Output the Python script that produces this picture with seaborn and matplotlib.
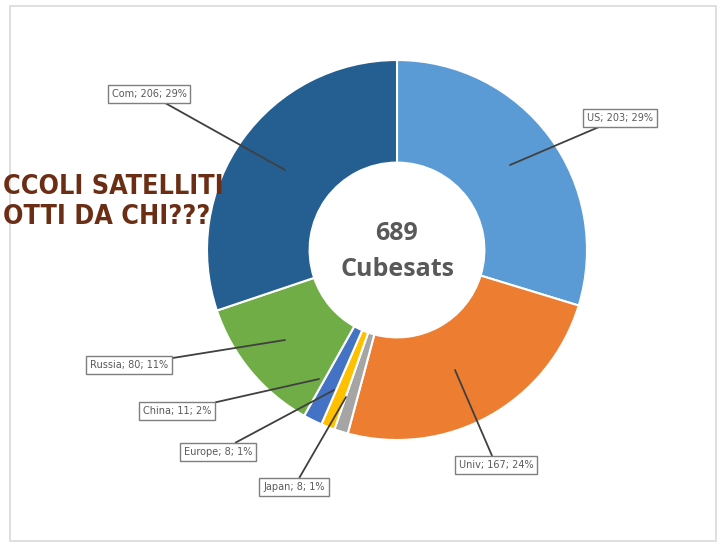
import matplotlib
matplotlib.use("Agg")
import matplotlib.pyplot as plt
import seaborn as sns
from matplotlib.patches import Rectangle

# dati (senso orario dall'alto)
paesi = ["US", "Univ", "Japan", "Europe", "China", "Russia", "Com"]
valori = [203, 167, 8, 8, 11, 80, 206]
percentuali = ["29%", "24%", "1%", "1%", "2%", "11%", "29%"]
colori = ["#5B9BD5", "#ED7D31", "#A5A5A5", "#FFC000", "#4472C4", "#70AD47", "#255E91"]

# posizione delle etichette (pixel, y dall'alto) e punto di arrivo della linea guida
pos_etichette = {
    "US": (620, 118), "Univ": (496, 465), "Japan": (294, 487), "Europe": (218, 452),
    "China": (177, 411), "Russia": (129, 365), "Com": (149, 94),
}
punti_guida = {
    "US": (510, 165), "Univ": (455, 370), "Japan": (346, 397), "Europe": (334, 390),
    "China": (319, 379), "Russia": (285, 340), "Com": (285, 170),
}

sns.set_theme(style="white")

W, H = 721, 547
fig = plt.figure(figsize=(W / 100, H / 100), dpi=100)
ax = fig.add_axes([0, 0, 1, 1])

cx, cy, R = 397, H - 250, 190
ax.pie(valori, colors=colori, startangle=90, counterclock=False,
       center=(cx, cy), radius=R, frame=True,
       wedgeprops=dict(width=R * 0.54, edgecolor="white", linewidth=1.5))
ax.set_xlim(0, W)
ax.set_ylim(0, H)
ax.set_aspect("equal")
ax.axis("off")

ax.text(cx, cy + 16, "689", ha="center", va="center", fontsize=18,
        fontweight="bold", color="#595959", family="Open Sans")
ax.text(cx, cy - 20, "Cubesats", ha="center", va="center", fontsize=18,
        fontweight="bold", color="#595959", family="Open Sans")

for nome, val, pct in zip(paesi, valori, percentuali):
    tx, ty = pos_etichette[nome]
    px, py = punti_guida[nome]
    ax.annotate(f"{nome}; {val}; {pct}", xy=(px, H - py), xytext=(tx, H - ty),
                ha="center", va="center", fontsize=7, color="#595959",
                bbox=dict(boxstyle="square,pad=0.4", fc="white", ec="#7F7F7F", lw=1),
                arrowprops=dict(arrowstyle="-", color="#404040", lw=1.3,
                                shrinkA=0, shrinkB=0))

# titolo (parte visibile, tagliata a sinistra nell'originale)
titolo_kw = dict(ha="left", va="center", fontsize=19.3, fontweight="heavy",
                 fontstretch="condensed", color="#6B2E14",
                 family=["DejaVu Sans"], zorder=10)
ax.text(3, H - 187, "CCOLI SATELLITI", **titolo_kw)
ax.text(3, H - 217, "OTTI DA CHI???", **titolo_kw)

# cornice grigia
ax.add_patch(Rectangle((10, 6), 706, H - 12, fill=False, ec="#D9D9D9", lw=1.2))

fig.savefig("out.png", dpi=100, facecolor="white")
